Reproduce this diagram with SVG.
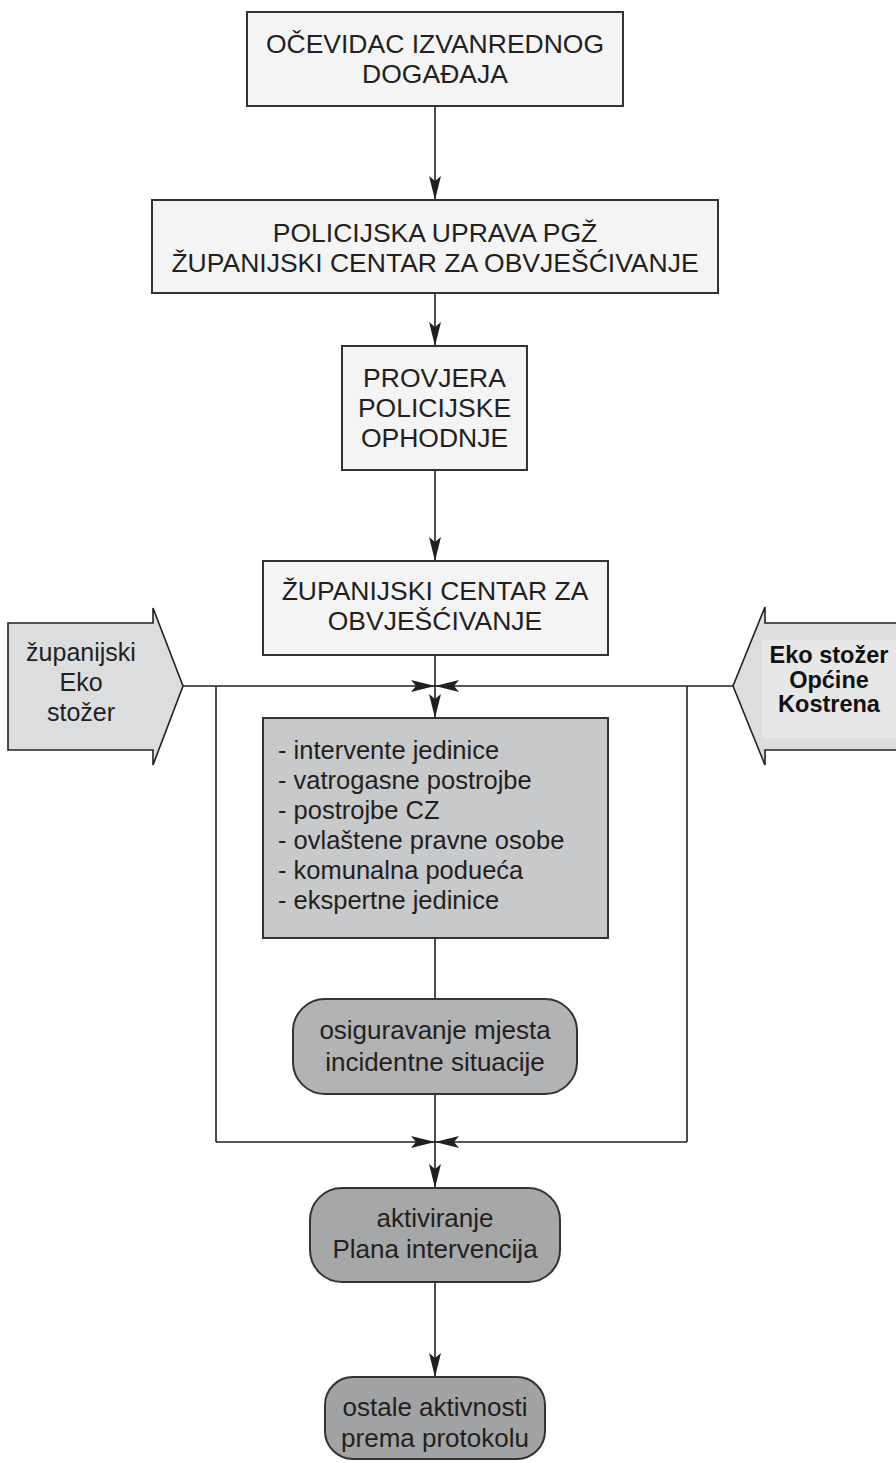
<svg xmlns="http://www.w3.org/2000/svg" width="896" height="1463" viewBox="0 0 896 1463">
<defs>
<marker id="ah" viewBox="0 0 24 13" refX="24" refY="6.5" markerWidth="24" markerHeight="13" markerUnits="userSpaceOnUse" orient="auto">
<path d="M0,0.5 L24,6.5 L0,12.5 L5,6.5 Z" fill="#231f20"/>
</marker>
</defs>
<style>
.box{fill:#f4f4f4;stroke:#333;stroke-width:2}
.t{font-family:"Liberation Sans",Arial,sans-serif;font-size:26.5px;fill:#231f20;text-anchor:middle}
.tr{font-family:"Liberation Sans",Arial,sans-serif;font-size:26px;fill:#231f20;text-anchor:middle}
.tl{font-family:"Liberation Sans",Arial,sans-serif;font-size:25.5px;fill:#231f20}
.tb{font-family:"Liberation Sans",Arial,sans-serif;font-size:23.5px;font-weight:bold;fill:#111;text-anchor:middle}
.ln{fill:none;stroke:#231f20;stroke-width:1.6}
.arr{fill:#dcdddf;stroke:#231f20;stroke-width:1.6}
</style>
<rect width="896" height="1463" fill="#fff"/>

<g id="connectors">
<line class="ln" x1="435" y1="106" x2="435" y2="200" marker-end="url(#ah)"/>
<line class="ln" x1="435" y1="293" x2="435" y2="346" marker-end="url(#ah)"/>
<line class="ln" x1="435" y1="470" x2="435" y2="561" marker-end="url(#ah)"/>
<line class="ln" x1="435" y1="655" x2="435" y2="718" marker-end="url(#ah)"/>
<line class="ln" x1="183" y1="686" x2="435" y2="686" marker-end="url(#ah)"/>
<line class="ln" x1="733" y1="686" x2="435" y2="686" marker-end="url(#ah)"/>
<line class="ln" x1="216" y1="686" x2="216" y2="1142"/>
<line class="ln" x1="687" y1="686" x2="687" y2="1142"/>
<line class="ln" x1="216" y1="1142" x2="435" y2="1142" marker-end="url(#ah)"/>
<line class="ln" x1="687" y1="1142" x2="435" y2="1142" marker-end="url(#ah)"/>
<line class="ln" x1="435" y1="938" x2="435" y2="999"/>
<line class="ln" x1="435" y1="1094" x2="435" y2="1188" marker-end="url(#ah)"/>
<line class="ln" x1="435" y1="1282" x2="435" y2="1377" marker-end="url(#ah)"/>
</g>

<g id="n1">
<rect class="box" x="247" y="12" width="376" height="94"/>
<text class="t" x="435" y="53">OČEVIDAC IZVANREDNOG</text>
<text class="t" x="435" y="83">DOGAĐAJA</text>
</g>

<g id="n2">
<rect class="box" x="152" y="200" width="566" height="93"/>
<text class="t" x="435" y="242">POLICIJSKA UPRAVA PGŽ</text>
<text class="t" x="435" y="272">ŽUPANIJSKI CENTAR ZA OBVJEŠĆIVANJE</text>
</g>

<g id="n3">
<rect class="box" x="342" y="346" width="185" height="124"/>
<text class="t" x="434.5" y="387">PROVJERA</text>
<text class="t" x="434.5" y="417">POLICIJSKE</text>
<text class="t" x="434.5" y="447">OPHODNJE</text>
</g>

<g id="n4">
<rect class="box" x="263" y="561" width="345" height="94"/>
<text class="t" x="435" y="600">ŽUPANIJSKI CENTAR ZA</text>
<text class="t" x="435" y="630">OBVJEŠĆIVANJE</text>
</g>

<g id="left-arrow">
<path class="arr" d="M8,623 L153,623 L153,608 L183,686 L153,765 L153,750 L8,750 Z"/>
<text class="tr" x="81" y="661" style="font-size:25px">županijski</text>
<text class="tr" x="81" y="691" style="font-size:25px">Eko</text>
<text class="tr" x="81" y="721" style="font-size:25px">stožer</text>
</g>

<g id="right-arrow">
<path class="arr" d="M898,623 L765,623 L765,607 L733,686 L765,765 L765,750 L898,750"/>
<rect x="762" y="640" width="136" height="98" fill="#e7e7e8"/>
<text class="tb" x="829" y="663">Eko stožer</text>
<text class="tb" x="829" y="688">Općine</text>
<text class="tb" x="829" y="712">Kostrena</text>
</g>

<g id="n5">
<rect x="263" y="718" width="345" height="220" fill="#c8c9cb" stroke="#333" stroke-width="2"/>
<text class="tl" x="278" y="759">- intervente jedinice</text>
<text class="tl" x="278" y="789">- vatrogasne postrojbe</text>
<text class="tl" x="278" y="819">- postrojbe CZ</text>
<text class="tl" x="278" y="849">- ovlaštene pravne osobe</text>
<text class="tl" x="278" y="879">- komunalna podueća</text>
<text class="tl" x="278" y="909">- ekspertne jedinice</text>
</g>

<g id="n6">
<rect x="293" y="999" width="284" height="95" rx="32" ry="32" fill="#b2b3b5" stroke="#333" stroke-width="2"/>
<text class="tr" x="435" y="1039">osiguravanje mjesta</text>
<text class="tr" x="435" y="1071">incidentne situacije</text>
</g>

<g id="n7">
<rect x="310" y="1188" width="250" height="94" rx="32" ry="32" fill="#a6a7a9" stroke="#333" stroke-width="2"/>
<text class="tr" x="435" y="1227">aktiviranje</text>
<text class="tr" x="435" y="1258">Plana intervencija</text>
</g>

<g id="n8">
<rect x="325" y="1377" width="220" height="82" rx="28" ry="28" fill="#a2a3a5" stroke="#333" stroke-width="2"/>
<text class="tr" x="435" y="1416">ostale aktivnosti</text>
<text class="tr" x="435" y="1447">prema protokolu</text>
</g>
</svg>
